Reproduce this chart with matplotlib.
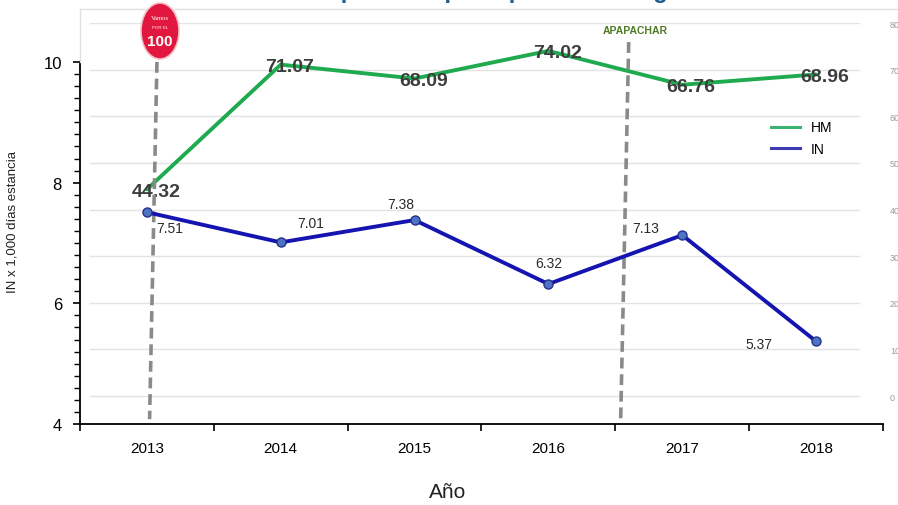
import matplotlib
matplotlib.use("Agg")
import matplotlib.pyplot as plt
from matplotlib.patches import Ellipse
from matplotlib.lines import Line2D
import numpy as np

plt.rcParams['font.family'] = ['Liberation Sans', 'DejaVu Sans']

years = ['2013', '2014', '2015', '2016', '2017', '2018']
hm_values = [44.32, 71.07, 68.09, 74.02, 66.76, 68.96]
in_values = [7.51, 7.01, 7.38, 6.32, 7.13, 5.37]
left_ticks = [4, 6, 8, 10]
right_ticks = [0, 10, 20, 30, 40, 50, 60, 70, 80]
# label offsets in pixels (dx, dy) for IN labels
in_offsets = [(23, -16), (30, 19), (-14, 16), (0, 21), (-37, 7), (-57, -3)]
events = [(0.02, 0.075, ''), (3.54, 3.60, 'APAPACHAR')]

W, H = 898, 506
fig = plt.figure(figsize=(W / 100, H / 100), dpi=100)
L, R, T, B = 80, 883, 24, 425
ax = fig.add_axes([L / W, (H - B) / H, (R - L) / W, (B - T) / H])
ax2 = ax.twinx()
ax.set_zorder(ax2.get_zorder() + 1)
ax.patch.set_visible(False)

x = np.arange(len(years))
ax.set_xlim(-0.5, 5.5)
ax.set_ylim(4, 10.646)
ax2.set_ylim(-6.0, 80)

# gridlines from right axis ticks
for v in right_ticks:
    ax2.axhline(v, xmin=0.0125, xmax=0.97, color='#e3e3e3', lw=1.0, zorder=0)

# event dashed lines
for xb, xt, lab in events:
    ytop = 10.0 if lab == '' else 10.33
    ax.plot([xt, xb], [ytop, 4.08], color='#8a8a8a', lw=2.6,
            dashes=(3, 1.6), zorder=2, solid_capstyle='butt')
    if lab:
        ax.text(xt + 0.05, 10.53, lab, ha='center', va='center', fontsize=7.5,
                fontweight='bold', color='#4f7a22')

# HM line on right axis
green = '#1faa4f'
ax2.plot(x, hm_values, color=green, lw=2.8, zorder=3, solid_capstyle='round')
# IN line on left axis
blue = '#1414b0'
ax.plot(x, in_values, color=blue, lw=2.8, zorder=4, marker='o', markersize=6.5,
        markerfacecolor='#4f73c4', markeredgecolor='#23328a', markeredgewidth=1.0)

# HM labels
for xi, v in zip(x, hm_values):
    ax2.annotate(f'{v:.2f}', (xi, v), xytext=(9, -2), textcoords='offset pixels',
                 ha='center', va='center', fontsize=14, fontweight='bold',
                 color='#3d3d3d', zorder=6)
# IN labels
for xi, v, (dx, dy) in zip(x, in_values, in_offsets):
    ax.annotate(f'{v:.2f}', (xi, v), xytext=(dx, dy), textcoords='offset pixels',
                ha='center', va='center', fontsize=10, color='#2a2a2a', zorder=6)

# spines
for s in ['top', 'right']:
    ax.spines[s].set_visible(False)
for s in ['top', 'right', 'left', 'bottom']:
    ax2.spines[s].set_visible(False)
ax.spines['left'].set_bounds(4, 10)
ax.spines['left'].set_linewidth(1.3)
ax.spines['bottom'].set_linewidth(1.3)

ax.set_yticks(left_ticks)
ax.set_yticks(np.arange(4, 10.01, 0.2), minor=True)
ax.tick_params(axis='y', which='major', length=5, width=1.2, labelsize=12, pad=8)
ax.tick_params(axis='y', which='minor', length=4, width=1.0)

ax.set_xticks(np.arange(-0.5, 5.51, 1.0))
ax.set_xticklabels([])
ax.set_xticks(x, minor=True)
ax.set_xticklabels(years, minor=True)
ax.tick_params(axis='x', which='major', length=5, width=1.2)
ax.tick_params(axis='x', which='minor', length=0, labelsize=11, pad=12)

ax2.set_yticks(right_ticks)
ax2.set_yticklabels([str(v) for v in right_ticks])
ax2.tick_params(axis='y', length=0, labelsize=6.5, labelcolor='#9a9a9a', pad=5)

ax.set_ylabel('IN x 1,000 días estancia', fontsize=9.5, color='#222222')
ax.yaxis.set_label_coords(-0.077, 0.506)
ax.set_xlabel('Año', fontsize=15, color='#222222')
ax.xaxis.set_label_coords(0.458, -0.145)

# legend
handles = [Line2D([], [], color='#3cb371', lw=2.2), Line2D([], [], color='#3c3cb0', lw=2.2)]
leg = ax.legend(handles, ['HM', 'IN'], loc='upper left', bbox_to_anchor=(758 / W, 1 - 109 / H),
                bbox_transform=fig.transFigure, frameon=False, fontsize=10,
                handlelength=2.1, labelspacing=0.55)

# outer light frame
fig.add_artist(Line2D([L / W, 1.0], [1 - 10 / H, 1 - 10 / H], transform=fig.transFigure,
                      color='#e0e0e0', lw=1.0))
fig.add_artist(Line2D([L / W, L / W], [1 - 10 / H, 1 - 63 / H], transform=fig.transFigure,
                      color='#e0e0e0', lw=1.0))

# logo
cx, cy = 160 / W, 1 - 32 / H
fig.add_artist(Ellipse((cx, cy), 38 / W, 56 / H, transform=fig.transFigure,
                       facecolor='#e2173f', edgecolor='#f3c0c8', lw=1.2, zorder=10))
fig.text(cx, cy + 13 / H, 'Vamos', ha='center', va='center', fontsize=4.8,
         color='white', zorder=11, family='Liberation Serif')
fig.text(cx, cy + 4 / H, 'POR EL', ha='center', va='center', fontsize=3.2,
         color='white', zorder=11)
fig.text(cx, cy - 10 / H, '100', ha='center', va='center', fontsize=11,
         fontweight='bold', color='white', zorder=11)

# partially visible title at the top
fig.text(0.565, 1 + 2 / H, 'Impacto de principales estrategias', ha='center',
         va='baseline', fontsize=17, fontweight='bold', color='#1f5d8c')

fig.savefig('out.png', dpi=100, facecolor='white')
